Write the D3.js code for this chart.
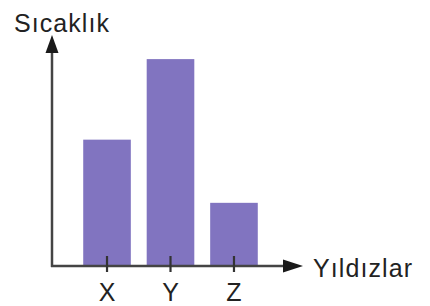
<!DOCTYPE html>
<html>
<head>
<meta charset="utf-8">
<script src="https://cdn.jsdelivr.net/npm/d3@7"></script>
<style>
  html, body { margin: 0; padding: 0; background: #fff; }
  text { font-family: "Liberation Sans", Arial, sans-serif; fill: #222; }
</style>
</head>
<body>
<svg id="chart" width="430" height="306"></svg>
<script>
// star names and their (relative) temperatures
const stars = ['X', 'Y', 'Z'];
const temps = [4, 6.55, 2];
const yLabel = 'Sıcaklık';
const xLabel = 'Yıldızlar';

const svg = d3.select('#chart');

const x0 = 52, yBase = 266;

const x = d3.scaleBand()
  .domain(stars)
  .range([61, 280])
  .paddingInner(0.25)
  .paddingOuter(0.35);

const y = d3.scaleLinear()
  .domain([0, 7.25])
  .range([yBase, 37]);

// bars
svg.selectAll('rect.bar')
  .data(stars)
  .enter()
  .append('rect')
  .attr('class', 'bar')
  .attr('x', d => x(d))
  .attr('width', x.bandwidth())
  .attr('y', (d, i) => y(temps[i]))
  .attr('height', (d, i) => yBase - y(temps[i]))
  .attr('fill', '#8174c0');

// axes lines
const axisColor = '#444';
svg.append('line')
  .attr('x1', x0).attr('x2', x0)
  .attr('y1', yBase + 1).attr('y2', 50)
  .attr('stroke', axisColor).attr('stroke-width', 2.5);

svg.append('line')
  .attr('x1', x0 - 1).attr('x2', 285)
  .attr('y1', yBase).attr('y2', yBase)
  .attr('stroke', axisColor).attr('stroke-width', 2.5);

// arrow heads
svg.append('path')
  .attr('d', `M${x0},35 L${x0 - 6.5},53 L${x0 + 6.5},53 Z`)
  .attr('fill', '#1a1a1a');

svg.append('path')
  .attr('d', `M303,${yBase} L283,${yBase - 6.5} L283,${yBase + 6.5} Z`)
  .attr('fill', '#1a1a1a');

// ticks
svg.selectAll('line.tick')
  .data(stars)
  .enter()
  .append('line')
  .attr('class', 'tick')
  .attr('x1', d => x(d) + x.bandwidth() / 2)
  .attr('x2', d => x(d) + x.bandwidth() / 2)
  .attr('y1', 256).attr('y2', 272)
  .attr('stroke', '#333').attr('stroke-width', 2.2);

// tick labels
svg.selectAll('text.tlabel')
  .data(stars)
  .enter()
  .append('text')
  .attr('class', 'tlabel')
  .attr('x', d => x(d) + x.bandwidth() / 2)
  .attr('y', 301)
  .attr('text-anchor', 'middle')
  .attr('font-size', 25)
  .text(d => d);

// axis titles
svg.append('text')
  .attr('x', 14).attr('y', 32)
  .attr('font-size', 25)
  .attr('textLength', 95)
  .text(yLabel);

svg.append('text')
  .attr('x', 313).attr('y', 277)
  .attr('font-size', 25)
  .attr('textLength', 99)
  .text(xLabel);
</script>
</body>
</html>
